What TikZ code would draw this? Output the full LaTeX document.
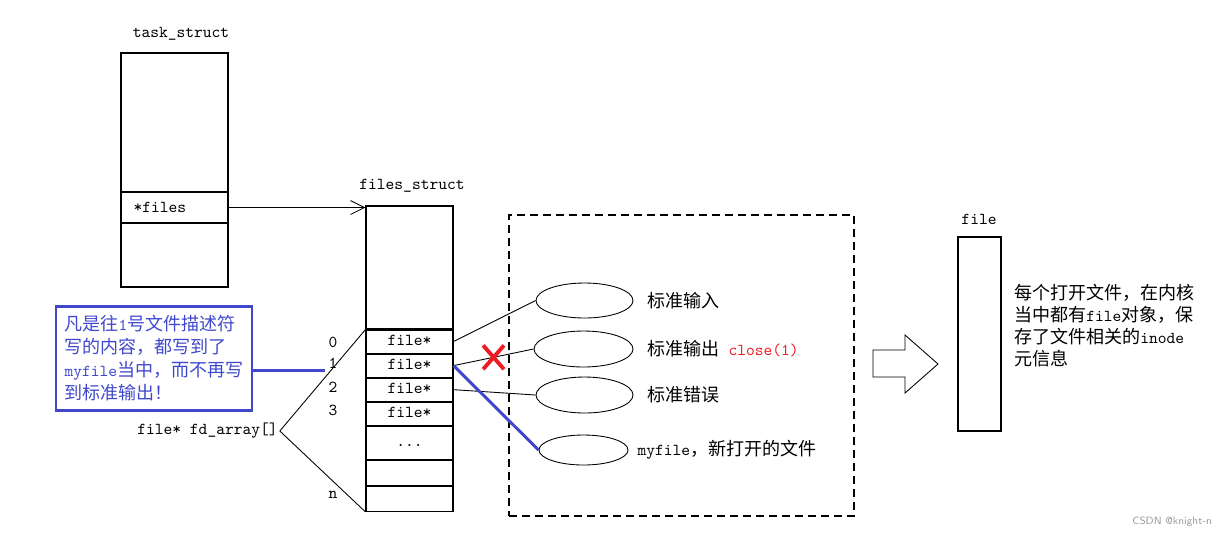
\documentclass[tikz,border=0pt]{standalone}
\usepackage{fontspec}
\newfontfamily\cjk[Scale=1.08]{Noto Sans CJK SC}
\newcommand{\zh}[1]{{\cjk #1}}
\usepackage{tikz}
\usetikzlibrary{positioning, arrows.meta, shapes.geometric, shapes.misc}
\definecolor{noteblue}{RGB}{63,72,204}
\definecolor{xred}{RGB}{237,28,36}

\begin{document}
\begin{tikzpicture}[x=0.2mm, y=-0.2mm, line width=0.5pt,
  every node/.style={inner sep=1pt, font=\ttfamily\fontsize{9.5}{12.5}\selectfont},
  box/.style={draw, line width=0.6pt, inner sep=0pt},
  cell/.style={box, minimum width=17.4mm, text height=6pt, text depth=1.5pt},
  slot/.style={draw, ellipse, inner sep=0pt, minimum width=19.4mm, minimum height=7mm},
  ptr/.style={-{Straight Barb[length=2.8mm, width=2.8mm]}},
  link/.style={line width=0.5pt},
  hint/.style={noteblue, line width=1.7pt}
]
  \useasboundingbox (0,0) rectangle (1226,540);

  % task_struct on the left
  \node (tasklbl) at (181,34) {task\_struct};
  \node[box, minimum width=21.4mm, minimum height=46.8mm] (task) at (174.5,170) {};
  \node[box, minimum width=21.4mm, minimum height=6.2mm, text width=16.4mm,
    align=left, inner xsep=2.5mm] (filesfld) at (174.5,207.5) {*files};

  % files_struct with its fd array
  \node (fslbl) at (412,186) {files\_struct};
  \node[box, minimum width=17.4mm, minimum height=24.6mm] (fshead) at (409.5,267.5) {};
  \node[cell, minimum height=4.6mm, below=0pt of fshead] (r0) {file*};
  \node[cell, minimum height=4.6mm, below=0pt of r0] (r1) {file*};
  \node[cell, minimum height=4.6mm, below=0pt of r1] (r2) {file*};
  \node[cell, minimum height=4.6mm, below=0pt of r2] (r3) {file*};
  \node[cell, minimum height=6.6mm, below=0pt of r3] (rdots) {...};
  \node[cell, minimum height=5mm, below=0pt of rdots] (r5) {};
  \node[cell, minimum height=5mm, below=0pt of r5] (rn) {};

  \draw[ptr] (filesfld.east) -- (fshead.west |- filesfld.east);

  % indices
  \node (i0) at (333,342) {0};
  \node (i1) at (333,363) {1};
  \node (i2) at (333,387) {2};
  \node (i3) at (333,410) {3};
  \node (in) at (333,495) {n};

  \node (fdarr) at (207.5,431) {file* fd\_array[]};
  \draw[link] (fdarr.east) -- (r0.north west);
  \draw[link] (fdarr.east) -- (rn.south west);

  % blue note
  \node[draw=noteblue, line width=1.7pt, text=noteblue, minimum width=39.2mm,
    minimum height=20.8mm, align=left,
    font=\ttfamily\fontsize{9.5}{13}\selectfont] (note) at (154,358)
    {\zh{凡是往}1\zh{号文件描述符}\\
     \zh{写的内容，都写到了}\\
     myfile\zh{当中，而不再写}\\
     \zh{到标准输出！}};
  \coordinate (noteend) at (325,370);
  \draw[hint] (note.east |- noteend) -- (noteend);

  % opened files
  \node[draw, dash pattern=on 1.6mm off 1mm, line width=0.6pt, minimum width=69mm,
    minimum height=60.2mm] (kfiles) at (681.5,365.5) {};
  \node[slot] (e1) at (584.5,300.5) {};
  \node[slot, minimum width=19.8mm, minimum height=7.2mm] (e2) at (583.5,349) {};
  \node[slot, minimum height=7.2mm] (e3) at (584.5,395) {};
  \node[slot, minimum width=17.8mm, minimum height=6mm] (e4) at (583.5,450) {};

  \node[right=2.4mm of e1] (l1) {\zh{标准输入}};
  \node[right=2.4mm of e2] (l2) {\zh{标准输出} \textcolor{xred}{close(1)}};
  \node[right=2.4mm of e3] (l3) {\zh{标准错误}};
  \node[right=1.4mm of e4] (l4) {myfile\zh{，新打开的文件}};

  \draw[link] (r0.east) -- (e1.west);
  \draw[link] (r1.east) -- node[pos=0.5, cross out, draw=xred, line width=2.2pt,
    minimum width=3.4mm, minimum height=4mm, inner sep=0pt] (cut) {} (e2.west);
  \draw[link] (r2.east) -- (e3.west);
  \draw[hint] (r1.east) -- (e4.west);

  % hollow arrow and the file object
  \draw[line width=0.5pt] (873,350) -- (905,350) -- (905,335) -- (938,364)
    -- (905,393) -- (905,377) -- (873,377) -- cycle;

  \node (filelbl) at (979,219) {file};
  \node[box, minimum width=8.6mm, minimum height=38.8mm] (fileobj) at (979.5,334) {};
  \node[anchor=west, align=left] (fileinfo) at (1012,326)
    {\zh{每个打开文件，在内核}\\
     \zh{当中都有}file\zh{对象，保}\\
     \zh{存了文件相关的}inode\\
     \zh{元信息}};

  \node[text=gray!80, font=\sffamily\fontsize{6}{7}\selectfont, anchor=east] (wm)
    at (1214,522) {CSDN @knight-n};
\end{tikzpicture}
\end{document}
